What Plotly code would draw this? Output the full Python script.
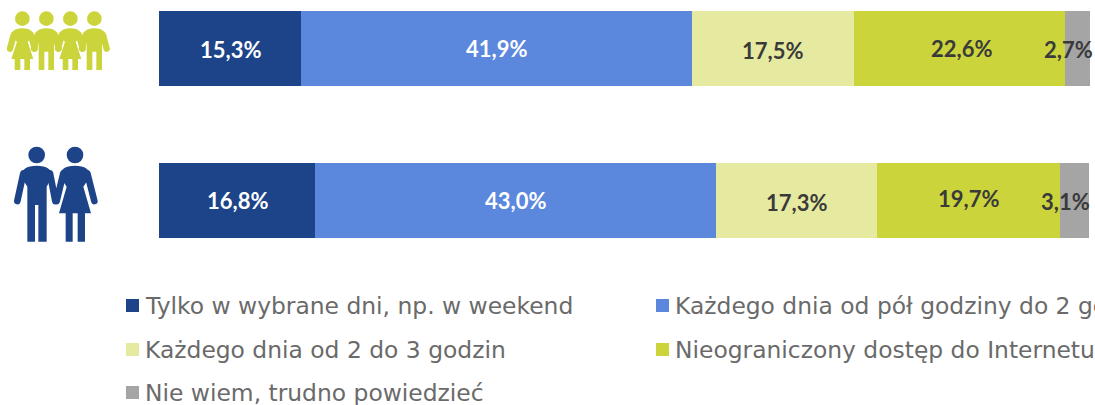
import base64
import plotly.graph_objects as go

groups = ["A", "B"]
series_names = ["Tylko w wybrane dni, np. w weekend", "Każdego dnia od pół godziny do 2 godzin",
                "Każdego dnia od 2 do 3 godzin", "Nieograniczony dostęp do Internetu", "Nie wiem, trudno powiedzieć"]
s1 = [15.3, 16.8]
s2 = [41.9, 43.0]
s3 = [17.5, 17.3]
s4 = [22.6, 19.7]
s5 = [2.7, 3.1]
colors = ["#1D4489", "#5B87DD", "#E6EAA0", "#CBD43A", "#A5A5A5"]
label_colors = ["#FFFFFF", "#FFFFFF", "#3A3A3A", "#3A3A3A", "#3A3A3A"]
all_series = [s1, s2, s3, s4, s5]
label_dx = [[0, 0], [0, 0], [0, 0], [2, 0], [-9, -9]]
label_dy = [[1, 0], [0, 0], [2, 2], [0, -2], [1, 1]]

W, H, L, R, PH = 1095, 405, 159, 5, 250
PW = W - L - R

fig = go.Figure()
for name, vals, c in zip(series_names, all_series, colors):
    fig.add_bar(y=groups, x=vals, name=name, orientation="h", marker=dict(color=c, line_width=0), showlegend=False)

ann = []
for g_i, g in enumerate(groups):
    cum = 0
    for s_i, vals in enumerate(all_series):
        v = vals[g_i]
        ann.append(dict(x=cum + v / 2, y=g, xref="x", yref="y", showarrow=False,
                        text=f"<b>{str(v).replace('.', ',')}%</b>",
                        font=dict(family="Lato, sans-serif", size=22, color=label_colors[s_i]),
                        xshift=label_dx[s_i][g_i], yshift=-label_dy[s_i][g_i]))
        cum += v

# legend, laid out by hand because the reference runs off the page edge
legend_x = [126, 656, 126, 656, 126]
legend_y = [306, 306, 350, 350, 393]
shapes = []
for name, c, lx, ly in zip(series_names, colors, legend_x, legend_y):
    shapes.append(dict(type="rect", xref="paper", yref="paper", line_width=0, fillcolor=c,
                       x0=(lx - L) / PW, x1=(lx + 13 - L) / PW,
                       y0=(PH - ly - 6) / PH, y1=(PH - ly + 7) / PH))
    ann.append(dict(x=(lx + 17 - L) / PW, y=(PH - ly) / PH, xref="paper", yref="paper", showarrow=False,
                    xanchor="left", yanchor="middle", text=name,
                    font=dict(family="DejaVu Sans, sans-serif", size=23.4, color="#6A6A6A")))


def girl(cx, c):
    return (f'<circle cx="{cx}" cy="56" r="22" fill="{c}"/>'
            f'<path d="M{cx-34} 112 Q{cx-34} 85 {cx} 85 Q{cx+34} 85 {cx+34} 112 L{cx+16} 125 L{cx+33} 177 '
            f'L{cx+23} 177 L{cx+23} 210 L{cx+6} 210 L{cx+6} 177 L{cx-6} 177 L{cx-6} 210 L{cx-23} 210 '
            f'L{cx-23} 177 L{cx-33} 177 L{cx-16} 125 Z" fill="{c}"/>'
            f'<path d="M{cx-26} 105 L{cx-37} 146 M{cx+26} 105 L{cx+37} 146" stroke="{c}" stroke-width="19" stroke-linecap="round"/>')


def boy(cx, c):
    return (f'<circle cx="{cx}" cy="56" r="22" fill="{c}"/>'
            f'<path d="M{cx-34} 112 Q{cx-34} 85 {cx} 85 Q{cx+34} 85 {cx+34} 112 L{cx+23} 125 L{cx+23} 210 L{cx+6} 210 '
            f'L{cx+6} 155 L{cx-6} 155 L{cx-6} 210 L{cx-23} 210 L{cx-23} 125 Z" fill="{c}"/>'
            f'<path d="M{cx-26} 105 L{cx-37} 146 M{cx+26} 105 L{cx+37} 146" stroke="{c}" stroke-width="19" stroke-linecap="round"/>')


olive, navy = colors[3], colors[0]
icons = girl(67, olive) + boy(139, olive) + girl(211, olive) + boy(283, olive)
icons += (f'<circle cx="110" cy="465" r="25" fill="{navy}"/><circle cx="225" cy="465" r="25" fill="{navy}"/>'
          f'<path d="M64 530 Q64 497 110 497 Q156 497 156 530 L140 560 L140 725 L115 725 L115 615 L105 615 L105 725 L82 725 L82 560 Z" fill="{navy}"/>'
          f'<path d="M180 530 Q180 497 225 497 Q270 497 270 530 L250 560 L273 640 L255 640 L255 725 L233 725 L233 640 L218 640 L218 725 L197 725 L197 640 L177 640 L200 560 Z" fill="{navy}"/>'
          f'<path d="M70 520 L52 603 M150 520 L166 603 M190 520 L170 603 M262 520 L283 603" stroke="{navy}" stroke-width="20" stroke-linecap="round" fill="none"/>')
svg = f'<svg xmlns="http://www.w3.org/2000/svg" width="330" height="250" viewBox="0 0 990 750">{icons}</svg>'
uri = "data:image/svg+xml;base64," + base64.b64encode(svg.encode()).decode()

fig.update_layout(
    barmode="stack", bargap=0.507, width=W, height=H,
    margin=dict(l=L, r=R, t=0, b=H - PH, pad=0),
    plot_bgcolor="white", paper_bgcolor="white",
    xaxis=dict(range=[0, 100], visible=False),
    yaxis=dict(type="category", categoryorder="array", categoryarray=groups,
               range=[1 + 49.5 / 152, -48.5 / 152], visible=False),
    annotations=ann, shapes=shapes,
    images=[dict(source=uri, xref="paper", yref="paper", x=-L / PW, y=1, sizex=330 / PW, sizey=1,
                 xanchor="left", yanchor="top", sizing="stretch", layer="above")],
)
fig.write_html("out.html", config={"displayModeBar": False},
               post_script="document.body.style.margin='0';document.body.style.overflow='hidden';")
